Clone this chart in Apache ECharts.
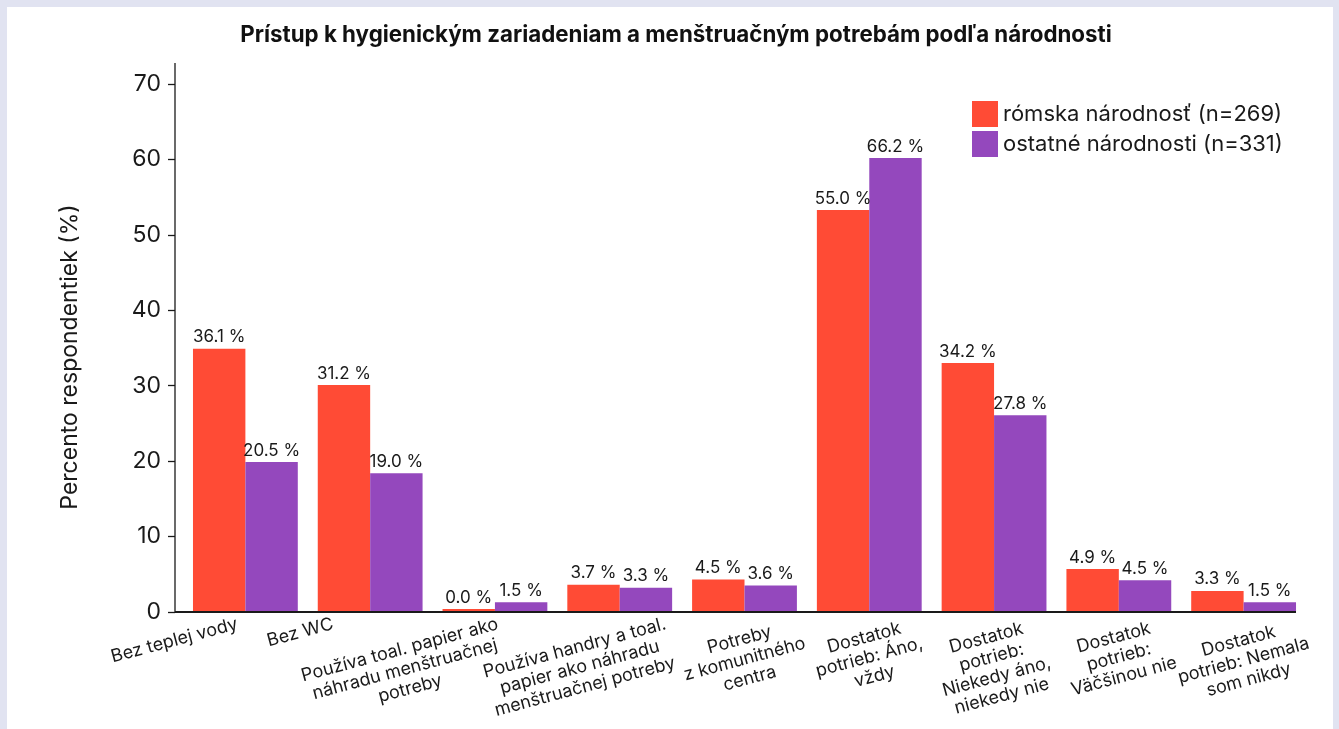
<!DOCTYPE html>
<html>
<head>
<meta charset="utf-8">
<script src="https://cdn.jsdelivr.net/npm/echarts@6/dist/echarts.min.js"></script>
<style>
  html, body { margin: 0; padding: 0; background: #e1e3f1; }
  #chart { width: 1339px; height: 729px; }
</style>
</head>
<body>
<div id="chart"></div>
<script>
const categories = [
  'Bez teplej vody',
  'Bez WC',
  'Používa toal. papier ako\nnáhradu menštruačnej\npotreby',
  'Používa handry a toal.\npapier ako náhradu\nmenštruačnej potreby',
  'Potreby\nz komunitného\ncentra',
  'Dostatok\npotrieb: Áno,\nvždy',
  'Dostatok\npotrieb:\nNiekedy áno,\nniekedy nie',
  'Dostatok\npotrieb:\nVäčšinou nie',
  'Dostatok\npotrieb: Nemala\nsom nikdy'
]
const seriesNames = ['rómska národnosť (n=269)', 'ostatné národnosti (n=331)']
// bar heights as drawn in the picture
const romaValues = [34.9, 30.1, 0.4, 3.6, 4.3, 53.3, 33.0, 5.7, 2.8]
const otherValues = [19.9, 18.4, 1.3, 3.2, 3.5, 60.2, 26.1, 4.2, 1.3]
// texts printed above the bars
const romaLabels = ['36.1 %', '31.2 %', '0.0 %', '3.7 %', '4.5 %', '55.0 %', '34.2 %', '4.9 %', '3.3 %']
const otherLabels = ['20.5 %', '19.0 %', '1.5 %', '3.3 %', '3.6 %', '66.2 %', '27.8 %', '4.5 %', '1.5 %']
const yTicks = [0, 10, 20, 30, 40, 50, 60, 70]

const FONT = 'Inter, "Noto Sans", sans-serif'
const myColor = ['#ff4b35', '#9448bd']

const myCharts = echarts.init(document.getElementById('chart'))

function barLabel(texts) {
  return {
    show: true,
    position: 'top',
    distance: 3,
    color: '#1a1a1a',
    fontFamily: FONT,
    fontSize: 17,
    formatter: (p) => texts[p.dataIndex]
  }
}

// fixed frame pieces: white panel and the two axis lines
const frame = [
  {
    type: 'rect',
    z: -10,
    silent: true,
    shape: { x: 7, y: 7, width: 1326, height: 740 },
    style: { fill: '#ffffff' }
  },
  {
    type: 'line',
    z: 100,
    silent: true,
    shape: { x1: 175, y1: 63, x2: 175, y2: 613 },
    style: { stroke: '#1a1a1a', lineWidth: 1.3 }
  },
  {
    type: 'line',
    z: 100,
    silent: true,
    shape: { x1: 175, y1: 612, x2: 1296, y2: 612 },
    style: { stroke: '#1a1a1a', lineWidth: 2 }
  }
]

const option = {
  backgroundColor: '#e1e3f1',
  animation: false,
  title: {
    text: 'Prístup k hygienickým zariadeniam a menštruačným potrebám podľa národnosti',
    left: 671,
    textAlign: 'center',
    top: 19,
    textStyle: { fontFamily: FONT, fontWeight: 'bold', fontSize: 22.3, color: '#111' }
  },
  legend: {
    orient: 'vertical',
    left: 972,
    top: 101,
    itemWidth: 26,
    itemHeight: 26,
    itemGap: 4,
    icon: 'rect',
    padding: 0,
    textStyle: { fontFamily: FONT, fontSize: 22, color: '#1a1a1a' },
    data: seriesNames
  },
  grid: {
    left: 183,
    right: 33,
    top: 84,
    bottom: 117,
    outerBoundsMode: 'none'
  },
  xAxis: {
    type: 'category',
    data: categories,
    axisLine: { show: false },
    axisTick: { show: false },
    axisLabel: { show: false }
  },
  yAxis: {
    type: 'value',
    min: yTicks[0],
    max: yTicks[yTicks.length - 1],
    interval: 10,
    offset: 8,
    name: 'Percento respondentiek (%)',
    nameLocation: 'middle',
    nameGap: 93,
    nameTextStyle: { fontFamily: FONT, fontSize: 23, color: '#1a1a1a', padding: [0, 18, 0, 0] },
    splitLine: { show: false },
    axisLine: { show: false },
    axisTick: { show: true, length: 7, lineStyle: { color: '#1a1a1a', width: 1.3 } },
    axisLabel: { margin: 14, color: '#1a1a1a', fontFamily: FONT, fontSize: 23 }
  },
  graphic: frame,
  series: [
    {
      name: seriesNames[0],
      type: 'bar',
      data: romaValues,
      barGap: '0%',
      barCategoryGap: '16%',
      itemStyle: { color: myColor[0] },
      label: barLabel(romaLabels)
    },
    {
      name: seriesNames[1],
      type: 'bar',
      data: otherValues,
      barGap: '0%',
      barCategoryGap: '16%',
      itemStyle: { color: myColor[1] },
      label: barLabel(otherLabels)
    }
  ]
}

myCharts.setOption(option)

// rotated category labels, placed from the axis scale
// (the first four sit left of their group, as in the source image)
const labelShiftX = [-71, -70, -90, -40, 0, 0, 0, 0, 0]
const LABEL_SIZE = 18
const LABEL_LH = 20
const ROT = 15 * Math.PI / 180
const ctx = document.createElement('canvas').getContext('2d')
ctx.font = LABEL_SIZE + 'px ' + FONT

const y0 = myCharts.convertToPixel({ yAxisIndex: 0 }, 0)
const labels = categories.map((c, i) => {
  const lines = c.split('\n')
  const w = Math.max(...lines.map((l) => ctx.measureText(l).width))
  const h = lines.length * LABEL_LH
  const halfH = (w / 2) * Math.sin(ROT) + (h / 2) * Math.cos(ROT)
  const tx = myCharts.convertToPixel({ xAxisIndex: 0 }, i)
  return {
    type: 'text',
    silent: true,
    x: tx + labelShiftX[i],
    y: y0 + 2 + halfH,
    rotation: ROT,
    style: {
      text: c,
      align: 'center',
      verticalAlign: 'middle',
      fontFamily: FONT,
      fontSize: LABEL_SIZE,
      lineHeight: LABEL_LH,
      fill: '#1a1a1a'
    }
  }
})

myCharts.setOption({ graphic: frame.concat(labels) })
</script>
</body>
</html>
